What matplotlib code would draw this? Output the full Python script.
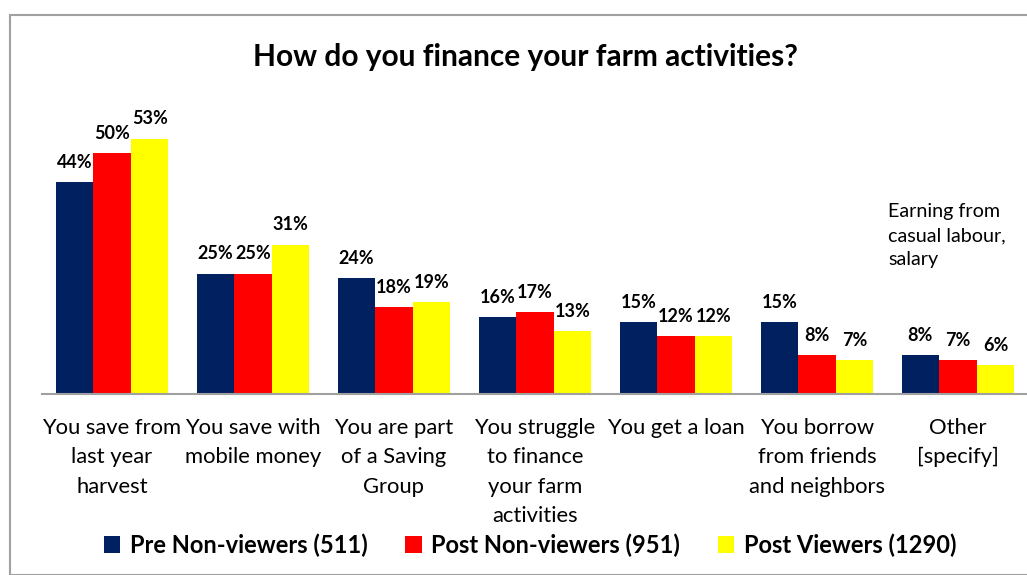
import matplotlib.pyplot as plt
from matplotlib.patches import Rectangle
import numpy as np

plt.rcParams['font.family'] = ['Lato', 'DejaVu Sans']

categories = ["You save from\nlast year\nharvest", "You save with\nmobile money",
              "You are part\nof a Saving\nGroup", "You struggle\nto finance\nyour farm\nactivities",
              "You get a loan", "You borrow\nfrom friends\nand neighbors", "Other\n[specify]"]
pre_non = [44, 25, 24, 16, 15, 15, 8]
post_non = [50, 25, 18, 17, 12, 8, 7]
post_view = [53, 31, 19, 13, 12, 7, 6]
series_names = ["Pre Non-viewers (511)", "Post Non-viewers (951)", "Post Viewers (1290)"]
colors = ["#002060", "#FF0000", "#FFFF00"]

W, H = 1027, 575
fig = plt.figure(figsize=(W / 100, H / 100), dpi=100)

# outer chart frame
fig.patches.append(Rectangle((10 / W, 0), 1.2, (H - 15) / H, transform=fig.transFigure,
                             fill=False, edgecolor="#A0A0A0", linewidth=1.5))

ax = fig.add_axes([41.5 / W, (H - 394) / H, 987 / W, 294 / H])
ax.set_ylim(0, 61)
ax.set_xlim(-0.5, len(categories) - 0.5)

x = np.arange(len(categories))
bw = 0.267
for i, vals in enumerate([pre_non, post_non, post_view]):
    pos = x + (i - 1) * bw
    ax.bar(pos, vals, width=bw, color=colors[i], label=series_names[i])
    for p, v in zip(pos, vals):
        ax.annotate(f"{v}%", (p, v), xytext=(0, 8), textcoords="offset points",
                    ha="center", va="bottom", fontsize=13, fontweight="bold")

for s in ["top", "right", "left"]:
    ax.spines[s].set_visible(False)
ax.spines["bottom"].set_color("#A0A0A0")
ax.spines["bottom"].set_linewidth(1.5)
ax.set_yticks([])
ax.set_xticks(x)
ax.set_xticklabels(categories, fontsize=15.8, linespacing=1.6, va="top")
ax.tick_params(axis="x", length=0, pad=17)

fig.text(525 / W, 1 - 57 / H, "How do you finance your farm activities?",
         ha="center", va="center", fontsize=21.5, fontweight="bold")
fig.text(888 / W, 1 - 203 / H, "Earning from\ncasual labour,\nsalary",
         ha="left", va="top", fontsize=14.2, linespacing=1.5)

leg = fig.legend(loc="center", bbox_to_anchor=(530 / W, 1 - 545 / H), ncol=3,
                 frameon=False, prop={"size": 17, "weight": "bold"},
                 handlelength=0.7, handleheight=0.7, handletextpad=0.4, columnspacing=1.6)

fig.savefig("out.png", dpi=100)
